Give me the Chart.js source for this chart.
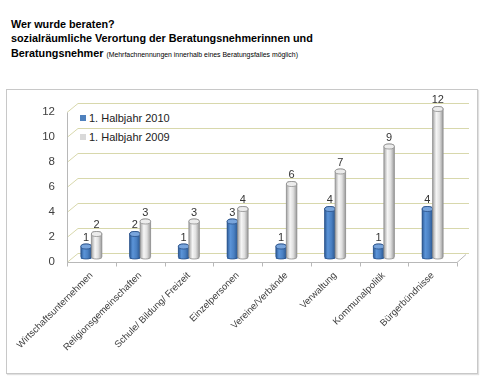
<!DOCTYPE html>
<html>
<head>
<meta charset="utf-8">
<script src="https://cdn.jsdelivr.net/npm/chart.js@4.4.1/dist/chart.umd.min.js"></script>
<style>
  html, body { margin: 0; padding: 0; background: #fff; }
  body { width: 500px; height: 383px; position: relative; overflow: hidden; font-family: 'Liberation Sans', Arial, sans-serif; }
  .title { position: absolute; left: 11px; top: 17px; font-weight: bold; font-size: 10.8px; line-height: 14.3px; color: #000; white-space: nowrap; }
  .title small { font-weight: normal; font-size: 6.9px; }
  .frame { position: absolute; left: 6px; top: 89px; width: 470px; height: 283px; border: 1px solid #c8c8c8; box-shadow: 1px 1px 1px rgba(0,0,0,.12); }
  .legend { position: absolute; left: 80px; font-size: 11px; color: #222; white-space: nowrap; line-height: 12px; }
  .legend span { display: inline-block; width: 6px; height: 6px; margin-right: 3px; vertical-align: 1px; }
  #chart { position: absolute; left: 0; top: 0; }
</style>
</head>
<body>
<div class="title">
  Wer wurde beraten?<br>
  sozialräumliche Verortung der Beratungsnehmerinnen und<br>
  Beratungsnehmer <small>(Mehrfachnennungen innerhalb eines Beratungsfalles möglich)</small>
</div>
<div class="frame"></div>
<div class="legend" style="top:112px;"><span style="background:#4f81bd"></span>1. Halbjahr 2010</div>
<div class="legend" style="top:131px;"><span style="background:#d9d9d9"></span>1. Halbjahr 2009</div>
<canvas id="chart" width="500" height="383"></canvas>

<script>
const categories = ['Wirtschaftsunternehmen', 'Religionsgemeinschaften', 'Schule/ Bildung/ Freizeit', 'Einzelpersonen',
                    'Vereine/Verbände', 'Verwaltung', 'Kommunalpolitik', 'Bürgerbündnisse'];
const seriesNames = ['1. Halbjahr 2010', '1. Halbjahr 2009'];
const halbjahr2010 = [1, 2, 1, 3, 1, 4, 1, 4];
const halbjahr2009 = [2, 3, 3, 4, 6, 7, 9, 12];
const yMin = 0, yMax = 12, yStep = 2;

// cylinder shading
const STYLES = [
  { body: [[0, '#2e5d99'], [0.3, '#5b94d8'], [0.65, '#4a80c2'], [1, '#2b5790']], top: '#79a5dc', line: '#2a5188' },
  { body: [[0, '#a4a4a4'], [0.35, '#f6f6f6'], [0.65, '#e0e0e0'], [1, '#9a9a9a']], top: '#ececec', line: '#8e8e8e' }
];

// wall + floor behind bars (fake 3D)
const wallPlugin = {
  id: 'wall3d',
  beforeDatasetsDraw(chart) {
    const { ctx, chartArea: { left, right }, scales: { x, y } } = chart;
    const dx = 11, front = 3, back = -6;
    ctx.save();
    ctx.lineWidth = 1;
    ctx.strokeStyle = '#d8d8ac';
    y.ticks.forEach(t => {
      const py = Math.round(y.getPixelForValue(t.value)) + 0.5;
      ctx.beginPath();
      ctx.moveTo(left, py + front);
      ctx.lineTo(left + dx, py + back);
      ctx.lineTo(right + dx + 1, py + back);
      ctx.stroke();
    });
    // axis + floor front edge
    const y0 = Math.round(y.getPixelForValue(yMin)) + 0.5;
    const yTop = Math.round(y.getPixelForValue(yMax)) + 0.5;
    ctx.strokeStyle = '#b8b8b8';
    ctx.beginPath();
    ctx.moveTo(left + 0.5, yTop + front);
    ctx.lineTo(left + 0.5, y0 + front);
    ctx.lineTo(right, y0 + front);
    ctx.lineTo(right + dx - 2, y0 + back + 1);
    ctx.stroke();
    // category tick marks
    const n = categories.length;
    const w = (right - left) / n;
    for (let i = 0; i <= n; i++) {
      const px = Math.round(left + i * w) + 0.5;
      ctx.beginPath();
      ctx.moveTo(px, y0 + front);
      ctx.lineTo(px, y0 + front + 4);
      ctx.stroke();
    }
    ctx.restore();
  },
  afterDatasetsDraw(chart) {
    const ctx = chart.ctx;
    const ry = 2.5;
    ctx.save();
    chart.data.datasets.forEach((ds, di) => {
      const meta = chart.getDatasetMeta(di);
      const st = STYLES[di];
      meta.data.forEach((bar, i) => {
        const p = bar.getProps(['x', 'y', 'base', 'width'], true);
        const rx = p.width / 2;
        const l = p.x - rx, r = p.x + rx;
        const bot = p.base - ry;
        const g = ctx.createLinearGradient(l, 0, r, 0);
        st.body.forEach(([o, c]) => g.addColorStop(o, c));
        ctx.beginPath();
        ctx.moveTo(l, p.y);
        ctx.lineTo(l, bot);
        ctx.ellipse(p.x, bot, rx, ry, 0, Math.PI, 0, true);
        ctx.lineTo(r, p.y);
        ctx.ellipse(p.x, p.y, rx, ry, 0, 0, Math.PI, true);
        ctx.closePath();
        ctx.fillStyle = g;
        ctx.fill();
        ctx.strokeStyle = st.line;
        ctx.lineWidth = 0.8;
        ctx.stroke();
        ctx.beginPath();
        ctx.ellipse(p.x, p.y, rx, ry, 0, 0, Math.PI * 2);
        ctx.fillStyle = st.top;
        ctx.fill();
        ctx.stroke();
        // value label
        ctx.fillStyle = '#333';
        ctx.font = '11px "Liberation Sans", Arial, sans-serif';
        ctx.textAlign = 'center';
        ctx.textBaseline = 'bottom';
        ctx.fillText(ds.data[i], p.x, p.y - ry - 1);
      });
    });
    ctx.restore();
  }
};

new Chart(document.getElementById('chart'), {
  type: 'bar',
  data: {
    labels: categories,
    datasets: [
      { label: seriesNames[0], data: halbjahr2010, backgroundColor: '#4f81bd' },
      { label: seriesNames[1], data: halbjahr2009, backgroundColor: '#d9d9d9' }
    ]
  },
  options: {
    responsive: false,
    animation: false,
    events: [],
    layout: { padding: { top: 109, right: 43, left: 0, bottom: 0 } },
    datasets: { bar: { categoryPercentage: 0.43, barPercentage: 1.0 } },
    plugins: { legend: { display: false }, tooltip: { enabled: false } },
    scales: {
      x: {
        grid: { display: false, drawTicks: false },
        border: { display: false },
        ticks: {
          minRotation: 45, maxRotation: 45, padding: 11, color: '#404040',
          font: { family: "'Liberation Sans', Arial, sans-serif", size: 9.5 }
        },
        afterFit: s => { s.height = 124; s.paddingLeft = 0; s.paddingRight = 0; }
      },
      y: {
        min: yMin, max: yMax,
        grid: { display: false, drawTicks: false },
        border: { display: false },
        ticks: {
          stepSize: yStep, padding: 12, labelOffset: 3, color: '#404040',
          font: { family: "'Liberation Sans', Arial, sans-serif", size: 11.5 }
        },
        afterFit: s => { s.width = 67; }
      }
    }
  },
  plugins: [wallPlugin]
});
</script>
</body>
</html>
